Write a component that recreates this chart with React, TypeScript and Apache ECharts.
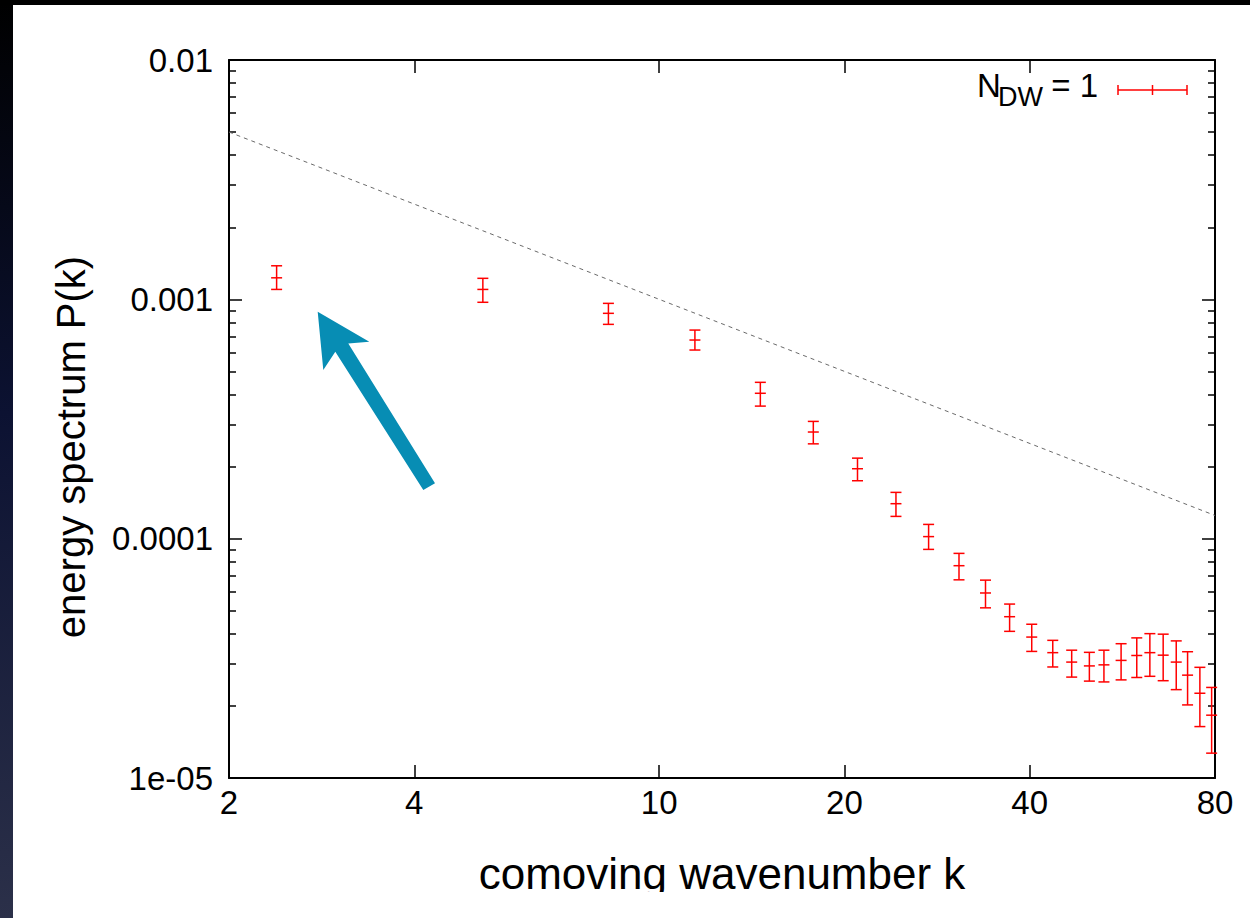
import React, { useEffect, useRef } from "react";
import * as echarts from "echarts";

// wavenumber k of each bin
const kValues = [2.39, 5.17, 8.27, 11.43, 14.6, 17.8, 21.0, 24.25, 27.4, 30.7, 33.9, 37.1, 40.3, 43.6, 46.8, 50.0, 52.8, 56.3, 59.7, 62.7, 65.9, 69.2, 72.2, 75.6, 79.0];
// energy spectrum P(k)
const pValues = [1.23e-3, 1.1e-3, 8.74e-4, 6.76e-4, 4.05e-4, 2.79e-4, 1.96e-4, 1.4e-4, 1.02e-4, 7.71e-5, 5.93e-5, 4.72e-5, 3.88e-5, 3.34e-5, 3.05e-5, 2.94e-5, 2.97e-5, 3.1e-5, 3.25e-5, 3.34e-5, 3.26e-5, 3.05e-5, 2.69e-5, 2.26e-5, 1.83e-5];
// lower and upper ends of the error bars
const pLow = [1.1e-3, 9.72e-4, 7.86e-4, 6.14e-4, 3.58e-4, 2.49e-4, 1.746e-4, 1.239e-4, 9.02e-5, 6.73e-5, 5.14e-5, 4.1e-5, 3.38e-5, 2.91e-5, 2.64e-5, 2.54e-5, 2.52e-5, 2.57e-5, 2.63e-5, 2.66e-5, 2.55e-5, 2.34e-5, 2.02e-5, 1.64e-5, 1.27e-5];
const pHigh = [1.381e-3, 1.224e-3, 9.62e-4, 7.44e-4, 4.5e-4, 3.09e-4, 2.17e-4, 1.561e-4, 1.147e-4, 8.68e-5, 6.71e-5, 5.33e-5, 4.39e-5, 3.76e-5, 3.42e-5, 3.35e-5, 3.42e-5, 3.64e-5, 3.85e-5, 4.01e-5, 3.99e-5, 3.74e-5, 3.37e-5, 2.9e-5, 2.39e-5];

// reference power law (dashed line) end points
const refLineK = [2, 80];
const refLineP = [0.005, 0.000125];

// axes
const xTicks = [2, 4, 10, 20, 40, 80];
const yMajorTicks = [1e-5, 1e-4, 1e-3, 1e-2];
const yTickLabels = ["1e-05", "0.0001", "0.001", "0.01"];
const yMinorTicks = [
  2e-5, 3e-5, 4e-5, 5e-5, 6e-5, 7e-5, 8e-5, 9e-5,
  2e-4, 3e-4, 4e-4, 5e-4, 6e-4, 7e-4, 8e-4, 9e-4,
  2e-3, 3e-3, 4e-3, 5e-3, 6e-3, 7e-3, 8e-3, 9e-3,
];

const xTitle = "comoving wavenumber k";
const yTitle = "energy spectrum P(k)";

const FONT = "'Liberation Sans', Arial, Helvetica, sans-serif";
const RED = "#ff0000";

export default function App() {
  const ref = useRef<HTMLDivElement>(null);

  useEffect(() => {
    if (!ref.current) return;
    const chart = echarts.init(ref.current, null, { renderer: "svg" });

    const errData = kValues.map((k, i) => [k, pValues[i], pLow[i], pHigh[i]]);
    const refData = refLineK.map((k, i) => [k, refLineP[i]]);

    const yLabelFor = (v: number) => {
      const e = Math.round(Math.log10(v));
      const idx = yMajorTicks.findIndex((t) => Math.round(Math.log10(t)) === e);
      return idx >= 0 ? yTickLabels[idx] : "";
    };

    const baseX = {
      type: "log" as const,
      logBase: 10,
      min: 2,
      max: 80,
      splitLine: { show: false },
      axisLine: { show: true, onZero: false, lineStyle: { color: "#000", width: 2 } },
    };
    const baseY = {
      type: "log" as const,
      logBase: 10,
      min: 1e-5,
      max: 1e-2,
      splitLine: { show: false },
    };

    const option: any = {
      animation: false,
      backgroundColor: "#ffffff",
      grid: { left: 229, right: 35, top: 60, bottom: 140, containLabel: false },
      xAxis: [
        {
          ...baseX,
          position: "bottom",
          name: xTitle,
          nameLocation: "middle",
          nameGap: 73,
          nameTextStyle: { fontFamily: FONT, fontSize: 44, color: "#000" },
          axisTick: {
            show: true,
            inside: true,
            length: 13,
            customValues: xTicks,
            lineStyle: { color: "#000", width: 1.5 },
          },
          axisLabel: {
            show: true,
            customValues: xTicks,
            margin: 8,
            fontFamily: FONT,
            fontSize: 33,
            color: "#000",
            formatter: (v: number) => String(Math.round(v)),
          },
        },
        {
          ...baseX,
          position: "top",
          axisTick: {
            show: true,
            inside: true,
            length: 13,
            customValues: xTicks,
            lineStyle: { color: "#000", width: 1.5 },
          },
          axisLabel: { show: false },
        },
      ],
      yAxis: [
        {
          ...baseY,
          position: "left",
          name: yTitle,
          nameLocation: "middle",
          nameRotate: 90,
          nameGap: 138,
          nameTextStyle: { fontFamily: FONT, fontSize: 40, color: "#000", padding: [0, 56, 0, 0] },
          axisLine: { show: true, onZero: false, lineStyle: { color: "#000", width: 2 } },
          axisTick: {
            show: true,
            inside: true,
            length: 13,
            customValues: yMajorTicks,
            lineStyle: { color: "#000", width: 1.5 },
          },
          axisLabel: {
            show: true,
            customValues: yMajorTicks,
            margin: 16,
            fontFamily: FONT,
            fontSize: 33,
            color: "#000",
            formatter: (v: number) => yLabelFor(v),
          },
        },
        {
          ...baseY,
          position: "right",
          axisLine: { show: true, onZero: false, lineStyle: { color: "#000", width: 2 } },
          axisTick: {
            show: true,
            inside: true,
            length: 13,
            customValues: yMajorTicks,
            lineStyle: { color: "#000", width: 1.5 },
          },
          axisLabel: { show: false },
        },
        {
          ...baseY,
          position: "left",
          axisLine: { show: false },
          axisTick: {
            show: true,
            inside: true,
            length: 7,
            customValues: yMinorTicks,
            lineStyle: { color: "#000", width: 1.5 },
          },
          axisLabel: { show: false },
        },
        {
          ...baseY,
          position: "right",
          axisLine: { show: false },
          axisTick: {
            show: true,
            inside: true,
            length: 7,
            customValues: yMinorTicks,
            lineStyle: { color: "#000", width: 1.5 },
          },
          axisLabel: { show: false },
        },
      ],
      series: [
        {
          type: "line",
          name: "k^-1",
          xAxisIndex: 0,
          yAxisIndex: 0,
          data: refData,
          showSymbol: false,
          silent: true,
          lineStyle: { color: "#6a6a6a", width: 1, type: [4, 4] },
          z: 2,
        },
        {
          type: "custom",
          name: "N_DW = 1",
          xAxisIndex: 0,
          yAxisIndex: 0,
          data: errData,
          encode: { x: 0, y: [1, 2, 3] },
          z: 3,
          renderItem: (_params: any, api: any) => {
            const k = api.value(0);
            const c = api.coord([k, api.value(1)]);
            const lo = api.coord([k, api.value(2)]);
            const hi = api.coord([k, api.value(3)]);
            const w = 5.5;
            const style = { stroke: RED, lineWidth: 1.5, fill: null };
            return {
              type: "group",
              children: [
                { type: "line", shape: { x1: hi[0], y1: hi[1], x2: lo[0], y2: lo[1] }, style },
                { type: "line", shape: { x1: hi[0] - w, y1: hi[1], x2: hi[0] + w, y2: hi[1] }, style },
                { type: "line", shape: { x1: lo[0] - w, y1: lo[1], x2: lo[0] + w, y2: lo[1] }, style },
                { type: "line", shape: { x1: c[0] - w, y1: c[1], x2: c[0] + w, y2: c[1] }, style },
              ],
            };
          },
        },
      ],
      graphic: [
        // slide background strips
        {
          type: "rect",
          shape: { x: 0, y: 0, width: 13, height: 918 },
          style: {
            fill: new echarts.graphic.LinearGradient(0, 0, 0, 1, [
              { offset: 0, color: "#000000" },
              { offset: 0.45, color: "#0c1232" },
              { offset: 1, color: "#2b3049" },
            ]),
          },
          z: 50,
        },
        { type: "rect", shape: { x: 0, y: 0, width: 1250, height: 5 }, style: { fill: "#000" }, z: 50 },
        // bottom crop of the figure
        { type: "rect", shape: { x: 13, y: 892, width: 1237, height: 26 }, style: { fill: "#fff" }, z: 50 },
        // legend
        {
          type: "text",
          x: 977,
          y: 85,
          style: { text: "N", fontFamily: FONT, fontSize: 33, fill: "#000", textAlign: "left", textVerticalAlign: "middle" },
          z: 10,
        },
        {
          type: "text",
          x: 998,
          y: 97,
          style: { text: "DW", fontFamily: FONT, fontSize: 27, fill: "#000", textAlign: "left", textVerticalAlign: "middle" },
          z: 10,
        },
        {
          type: "text",
          x: 1098,
          y: 85,
          style: { text: "= 1", fontFamily: FONT, fontSize: 33, fill: "#000", textAlign: "right", textVerticalAlign: "middle" },
          z: 10,
        },
        {
          type: "group",
          z: 10,
          children: [
            { type: "line", shape: { x1: 1118, y1: 90, x2: 1187, y2: 90 }, style: { stroke: RED, lineWidth: 1.5 } },
            { type: "line", shape: { x1: 1118, y1: 85, x2: 1118, y2: 95 }, style: { stroke: RED, lineWidth: 1.5 } },
            { type: "line", shape: { x1: 1187, y1: 85, x2: 1187, y2: 95 }, style: { stroke: RED, lineWidth: 1.5 } },
            { type: "line", shape: { x1: 1152.5, y1: 85, x2: 1152.5, y2: 95 }, style: { stroke: RED, lineWidth: 1.5 } },
          ],
        },
        // blue arrow annotation
        {
          type: "polygon",
          z: 10,
          shape: {
            points: [
              [317.7, 311.7],
              [369.3, 341.7],
              [348.3, 343.6],
              [435, 483.3],
              [423.3, 490],
              [335.3, 351.7],
              [323.3, 370],
            ],
          },
          style: { fill: "#078db4" },
        },
      ],
    };

    chart.setOption(option);
    return () => chart.dispose();
  }, []);

  return (
    <div
      ref={ref}
      style={{ position: "fixed", left: 0, top: 0, width: 1250, height: 918, background: "#fff" }}
    />
  );
}
